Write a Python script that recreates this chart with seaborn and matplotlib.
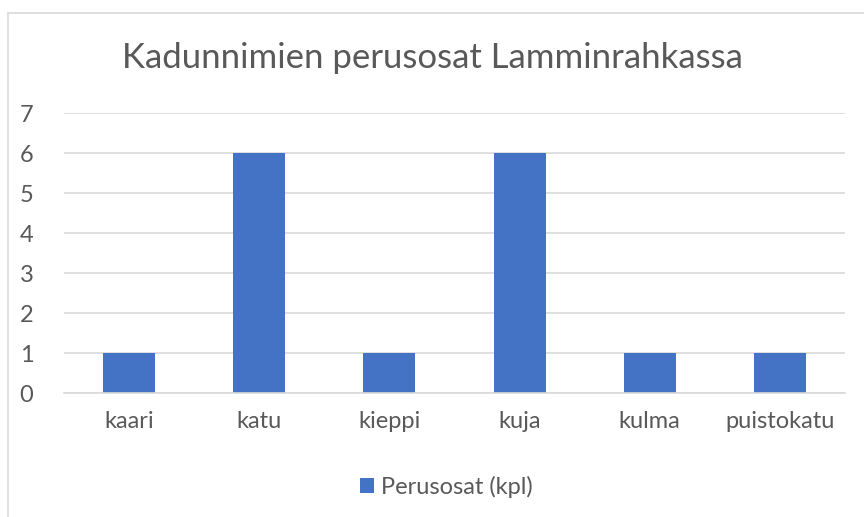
import matplotlib
matplotlib.use("Agg")
import matplotlib.pyplot as plt
import seaborn as sb
from matplotlib.patches import Rectangle

# data
categories = ["kaari", "katu", "kieppi", "kuja", "kulma", "puistokatu"]
counts = [1, 6, 1, 6, 1, 1]
series_name = "Perusosat (kpl)"
title = "Kadunnimien perusosat Lamminrahkassa"

sb.set_style("white")
plt.rcParams["font.family"] = ["Lato", "DejaVu Sans"]

text_color = "#595959"
bar_color = "#4472C4"

fig = plt.figure(figsize=(8.64, 5.17), dpi=100)
ax = fig.add_axes([64 / 864, 1 - 393 / 517, (845 - 64) / 864, (393 - 113) / 517])

sb.barplot(x=categories, y=counts, color=bar_color, width=0.4,
           saturation=1, linewidth=0, label=series_name, ax=ax)

ax.set_ylim(0, 7)
ax.set_yticks(range(0, 8))
ax.set_xlim(-0.5, len(categories) - 0.5)
ax.yaxis.grid(True, color="#D9D9D9", linewidth=1.2)
ax.set_axisbelow(True)
for side in ["top", "right", "left"]:
    ax.spines[side].set_visible(False)
ax.spines["bottom"].set_color("#D9D9D9")
ax.spines["bottom"].set_linewidth(1.2)
ax.tick_params(axis="both", length=0, labelsize=17, colors=text_color)
ax.tick_params(axis="x", pad=13)
ax.tick_params(axis="y", pad=22)
ax.set_xlabel("")
ax.set_ylabel("")

fig.text(0.5, 1 - 58 / 517, title, ha="center", va="center",
         fontsize=25, color=text_color)

leg = ax.legend(loc="center", bbox_to_anchor=(446 / 864, 1 - 487 / 517),
                bbox_transform=fig.transFigure, frameon=False, fontsize=17,
                handlelength=0.6, handleheight=0.6, handletextpad=0.3)
for t in leg.get_texts():
    t.set_color(text_color)

# chart area border
fig.patches.append(Rectangle((8 / 864, -0.05), 1.2, 1 - 13 / 517 + 0.05,
                             transform=fig.transFigure, fill=False,
                             edgecolor="#D9D9D9", linewidth=1.2))

plt.savefig("out.png", dpi=100)
plt.close()
